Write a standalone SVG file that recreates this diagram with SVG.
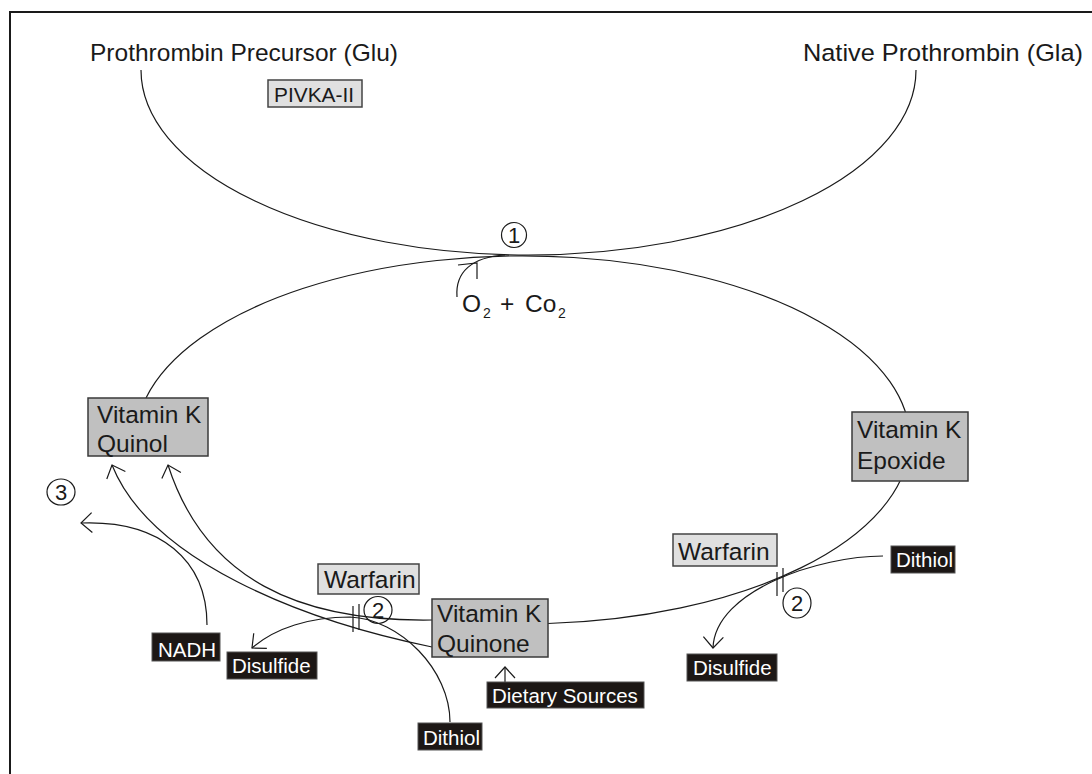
<svg xmlns="http://www.w3.org/2000/svg" width="1092" height="774" viewBox="0 0 1092 774">
<defs>
<style>
text{font-family:"Liberation Sans",Arial,sans-serif;fill:#1a1a1a}
.t{font-size:24.5px}
.s{font-size:20.5px}
.w{fill:#ffffff;font-size:20.5px}
.ln{fill:none;stroke:#1a1a1a;stroke-width:1.2}
.vk{fill:#c0c0c0;stroke:#3a3a3a;stroke-width:1.5}
.lt{fill:#e0e0e0;stroke:#444;stroke-width:1.5}
.bk{fill:#1c1715;stroke:#555;stroke-width:1}
.cn{fill:none;stroke:#1a1a1a;stroke-width:1.2}
.num{font-size:22px;text-anchor:middle}
</style>
<marker id="ah" viewBox="-14 -12 16 24" markerWidth="16" markerHeight="24" refX="0" refY="0" orient="auto" markerUnits="userSpaceOnUse">
<path d="M-11,-10 L0,0 L-11,10" fill="none" stroke="#1a1a1a" stroke-width="1.2"/>
</marker>
</defs>
<rect x="0" y="0" width="1092" height="774" fill="#ffffff"/>
<rect x="10" y="12" width="1100" height="800" fill="none" stroke="#1a1a1a" stroke-width="2"/>

<g id="connectors">
<path class="ln" d="M141,70 A387.5,185 0 0 0 916,70"/>
<path class="ln" d="M146,398 A387,184 0 1 1 548,623.5"/>
<path class="ln" d="M457,297 C455,272 472,257 505,255"/>
<path class="ln" d="M458,265 L477,263 L477,279"/>
<path class="ln" d="M432,620 C300,622 205,580 168,465" marker-end="url(#ah)"/>
<path class="ln" d="M432,647 C300,620 150,560 112,465" marker-end="url(#ah)"/>
<path class="ln" d="M207,625 C207,560 160,520 81,523" marker-end="url(#ah)"/>
<path class="ln" d="M883,556 C820,556 715,590 713,648" marker-end="url(#ah)"/>
<path class="ln" d="M450,722 C450,670 400,619 350,617 C310,617 275,628 252,648" marker-end="url(#ah)"/>
<path class="ln" d="M505,682 L505,667" marker-end="url(#ah)"/>
<path class="ln" d="M777,572 L777,596 M783,568 L783,592"/>
<path class="ln" d="M353,606 L353,632 M359,604 L359,630"/>
</g>

<g id="step1">
<ellipse class="cn" cx="514" cy="235" rx="12.5" ry="12.5"/>
<text class="num" x="514" y="243">1</text>
</g>
<g id="step2-right">
<ellipse class="cn" cx="797" cy="603" rx="14" ry="15"/>
<text class="num" x="797" y="611">2</text>
</g>
<g id="step2-left">
<ellipse class="cn" cx="378" cy="610" rx="14" ry="13.5"/>
<text class="num" x="378" y="618">2</text>
</g>
<g id="step3">
<ellipse class="cn" cx="61" cy="492" rx="14" ry="13"/>
<text class="num" x="61" y="500">3</text>
</g>

<g id="precursor">
<text class="t" x="90" y="61" textLength="308" lengthAdjust="spacingAndGlyphs">Prothrombin Precursor (Glu)</text>
</g>
<g id="native">
<text class="t" x="803" y="61" textLength="280" lengthAdjust="spacingAndGlyphs">Native Prothrombin (Gla)</text>
</g>
<g id="pivka">
<rect class="lt" x="268" y="80" width="94" height="27"/>
<text class="s" x="274" y="102" font-size="22" textLength="80" lengthAdjust="spacingAndGlyphs">PIVKA-II</text>
</g>
<g id="o2co2">
<text class="t" x="462" y="312">O</text>
<text x="483" y="318" font-size="14">2</text>
<text class="t" x="500" y="312">+</text>
<text class="t" x="525" y="312">Co</text>
<text x="558" y="318" font-size="14">2</text>
</g>
<g id="quinol">
<rect class="vk" x="88" y="398" width="120" height="58"/>
<text class="t" x="97" y="423">Vitamin K</text>
<text class="t" x="97" y="452">Quinol</text>
</g>
<g id="epoxide">
<rect class="vk" x="852" y="412" width="116" height="69"/>
<text class="t" x="857" y="438">Vitamin K</text>
<text class="t" x="857" y="469">Epoxide</text>
</g>
<g id="quinone">
<rect class="vk" x="432" y="599" width="116" height="58"/>
<text class="t" x="437" y="622">Vitamin K</text>
<text class="t" x="437" y="652">Quinone</text>
</g>
<g id="warfarin-right">
<rect class="lt" x="673" y="534" width="104" height="32"/>
<text class="t" x="678" y="560">Warfarin</text>
</g>
<g id="warfarin-left">
<rect class="lt" x="318" y="564" width="101" height="30"/>
<text class="t" x="324" y="588">Warfarin</text>
</g>
<g id="dithiol-right">
<rect class="bk" x="891" y="546" width="64" height="27"/>
<text class="w" x="896" y="567">Dithiol</text>
</g>
<g id="disulfide-right">
<rect class="bk" x="687" y="654" width="90" height="27"/>
<text class="w" x="693" y="675">Disulfide</text>
</g>
<g id="nadh">
<rect class="bk" x="152" y="633" width="68" height="28"/>
<text class="w" x="158" y="657">NADH</text>
</g>
<g id="disulfide-left">
<rect class="bk" x="227" y="652" width="90" height="27"/>
<text class="w" x="232" y="673">Disulfide</text>
</g>
<g id="dithiol-bottom">
<rect class="bk" x="418" y="723" width="64" height="27"/>
<text class="w" x="423" y="745">Dithiol</text>
</g>
<g id="dietary">
<rect class="bk" x="487" y="682" width="157" height="26"/>
<text class="w" x="492" y="703">Dietary Sources</text>
</g>
</svg>
